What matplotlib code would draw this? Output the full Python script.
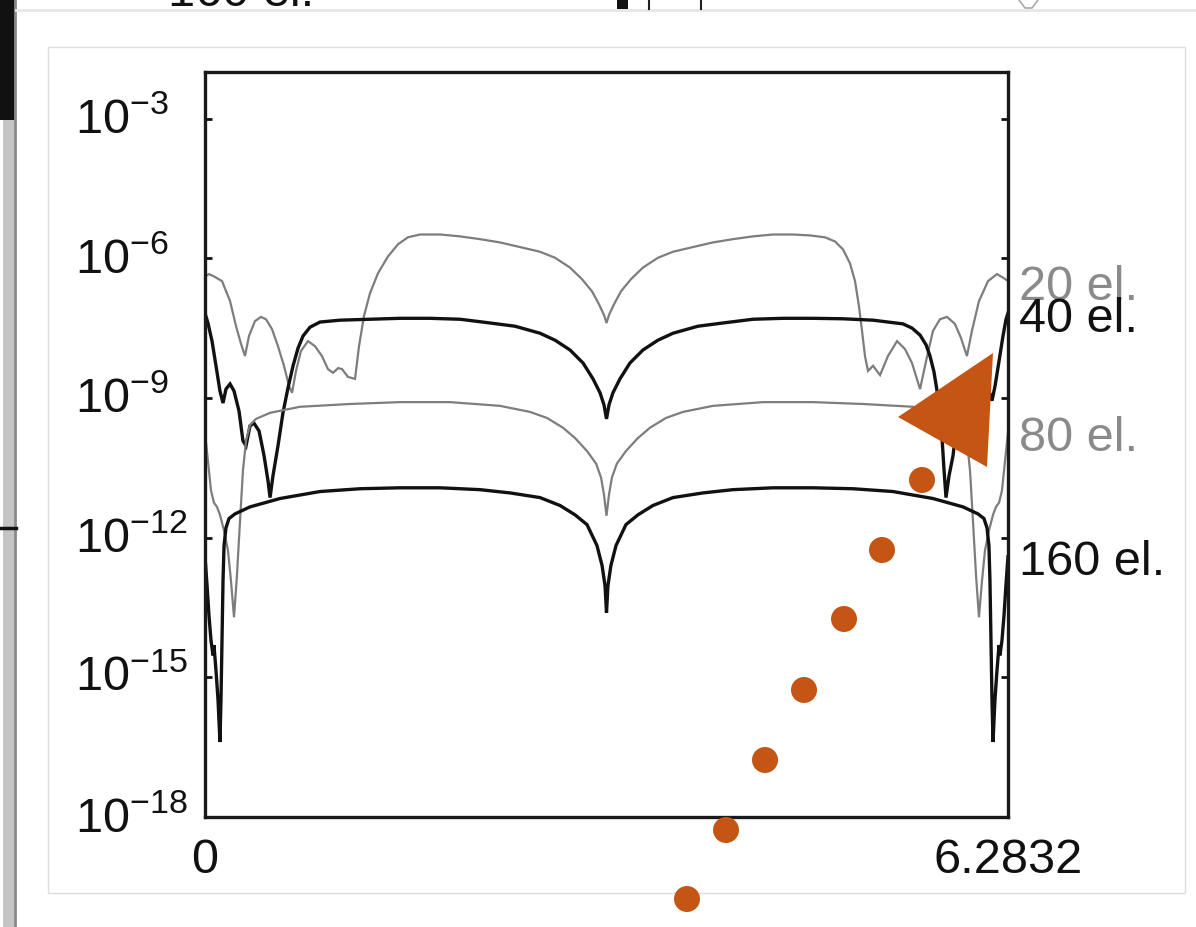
import numpy as np
import matplotlib.pyplot as plt
from matplotlib.patches import Polygon, Rectangle
from matplotlib.transforms import ScaledTranslation

plt.rcParams['font.family'] = ['Liberation Sans', 'DejaVu Sans']
plt.rcParams['mathtext.fontset'] = 'custom'
plt.rcParams['mathtext.rm'] = 'Liberation Sans'
plt.rcParams['mathtext.it'] = 'Liberation Sans:italic'
plt.rcParams['mathtext.bf'] = 'Liberation Sans:bold'

# ---- error curves: x in radians, values are log10(error) ----
x_20 = [0.000, 0.031, 0.070, 0.133, 0.196, 0.243, 0.282, 0.313, 0.344, 0.391,
        0.438, 0.477, 0.524, 0.571, 0.618, 0.657, 0.681, 0.712, 0.751, 0.806,
        0.861, 0.915, 0.962, 1.002, 1.041, 1.072, 1.119, 1.174, 1.205, 1.244,
        1.291, 1.354, 1.432, 1.510, 1.588, 1.682, 1.839, 1.995, 2.152, 2.308,
        2.465, 2.621, 2.739, 2.856, 2.950, 3.028, 3.083, 3.122, 3.1416,
        3.161, 3.200, 3.255, 3.333, 3.427, 3.544, 3.662, 3.818, 3.975, 4.131,
        4.288, 4.444, 4.601, 4.734, 4.851, 4.930, 4.992, 5.047, 5.086, 5.117,
        5.141, 5.164, 5.188, 5.227, 5.282, 5.344, 5.415, 5.477, 5.532, 5.595,
        5.642, 5.696, 5.751, 5.806, 5.868, 5.915, 5.962, 6.001, 6.056, 6.127,
        6.197, 6.252, 6.283]
e_20 = [-6.39, -6.34, -6.39, -6.49, -6.92, -7.46, -7.84, -8.10, -7.67, -7.35,
        -7.26, -7.31, -7.52, -7.89, -8.31, -8.74, -8.89, -8.42, -7.99, -7.78,
        -7.89, -8.10, -8.38, -8.46, -8.36, -8.38, -8.55, -8.59, -7.89, -7.24,
        -6.75, -6.32, -5.96, -5.70, -5.55, -5.49, -5.49, -5.53, -5.59, -5.66,
        -5.76, -5.86, -5.99, -6.20, -6.45, -6.71, -6.99, -7.22, -7.39,
        -7.22, -6.99, -6.71, -6.45, -6.20, -5.99, -5.86, -5.76, -5.66, -5.59,
        -5.53, -5.49, -5.49, -5.51, -5.55, -5.64, -5.81, -6.11, -6.49, -7.03,
        -7.56, -8.10, -8.42, -8.31, -8.51, -8.10, -7.78, -7.95, -8.25, -8.81,
        -8.21, -7.56, -7.31, -7.26, -7.41, -7.71, -8.10, -7.56, -6.92, -6.49,
        -6.34, -6.43, -6.49]

x_40 = [0.000, 0.023, 0.055, 0.086, 0.117, 0.141, 0.164, 0.196, 0.227, 0.266,
        0.297, 0.321, 0.352, 0.383, 0.423, 0.462, 0.493, 0.509, 0.532, 0.571,
        0.610, 0.649, 0.689, 0.728, 0.767, 0.822, 0.900, 1.056, 1.291, 1.526,
        1.761, 1.995, 2.230, 2.426, 2.621, 2.739, 2.856, 2.958, 3.036, 3.091,
        3.122, 3.1416,
        3.161, 3.192, 3.247, 3.325, 3.427, 3.544, 3.662, 3.857, 4.053, 4.288,
        4.522, 4.757, 4.992, 5.227, 5.462, 5.532, 5.595, 5.642, 5.673, 5.704,
        5.728, 5.751, 5.767, 5.782, 5.798, 5.822, 5.853, 5.876, 5.915, 5.947,
        5.978, 6.002, 6.033, 6.072, 6.103, 6.135, 6.158, 6.182, 6.213, 6.244,
        6.268, 6.283]
e_40 = [-7.18, -7.39, -7.78, -8.31, -8.85, -9.11, -8.81, -8.70, -8.85, -9.28,
        -9.92, -10.03, -9.60, -9.54, -9.71, -10.24, -10.78, -11.14, -10.67, -10.03,
        -9.32, -8.79, -8.31, -7.93, -7.67, -7.48, -7.37, -7.33, -7.31, -7.29,
        -7.29, -7.31, -7.39, -7.46, -7.61, -7.76, -7.97, -8.25, -8.59, -8.89,
        -9.15, -9.45,
        -9.15, -8.89, -8.59, -8.25, -7.97, -7.76, -7.61, -7.46, -7.39, -7.31,
        -7.29, -7.29, -7.30, -7.33, -7.41, -7.50, -7.65, -7.86, -8.10, -8.44,
        -8.85, -9.34, -9.86, -10.52, -11.14, -10.67, -10.24, -9.71, -9.54, -9.60,
        -10.03, -9.92, -9.28, -8.85, -8.70, -8.85, -9.06, -8.74, -8.21, -7.67,
        -7.31, -7.18]

x_80 = [0.000, 0.023, 0.047, 0.070, 0.094, 0.117, 0.149, 0.180, 0.203, 0.227,
        0.250, 0.274, 0.297, 0.321, 0.352, 0.399, 0.509, 0.743, 1.135, 1.526,
        1.917, 2.308, 2.543, 2.676, 2.801, 2.895, 2.989, 3.060, 3.099, 3.122,
        3.1416,
        3.161, 3.184, 3.223, 3.294, 3.388, 3.482, 3.607, 3.740, 3.975, 4.366,
        4.757, 5.148, 5.540, 5.774, 5.884, 5.931, 5.962, 5.986, 6.009, 6.033,
        6.056, 6.080, 6.103, 6.134, 6.166, 6.189, 6.213, 6.236, 6.260, 6.283]
e_80 = [-9.75, -10.35, -10.99, -11.25, -11.34, -11.51, -11.85, -12.28, -12.92, -13.71,
        -12.81, -11.64, -10.56, -9.92, -9.58, -9.45, -9.32, -9.19, -9.13, -9.09,
        -9.09, -9.17, -9.30, -9.43, -9.64, -9.86, -10.14, -10.41, -10.71, -11.08,
        -11.53,
        -11.08, -10.71, -10.41, -10.14, -9.86, -9.64, -9.43, -9.30, -9.17, -9.09,
        -9.09, -9.13, -9.19, -9.32, -9.45, -9.58, -9.92, -10.56, -11.64, -12.81,
        -13.71, -12.92, -12.28, -11.85, -11.51, -11.34, -11.25, -10.99, -10.35, -9.75]

x_160 = [0.000, 0.016, 0.031, 0.047, 0.063, 0.070, 0.086, 0.102, 0.117, 0.125,
         0.133, 0.141, 0.149, 0.164, 0.188, 0.235, 0.352, 0.587, 0.900, 1.213,
         1.526, 1.839, 2.152, 2.387, 2.621, 2.778, 2.895, 2.989, 3.067, 3.107,
         3.130, 3.1416,
         3.153, 3.176, 3.216, 3.294, 3.388, 3.505, 3.662, 3.896, 4.131, 4.444,
         4.757, 5.070, 5.383, 5.696, 5.931, 6.048, 6.095, 6.119, 6.134, 6.142,
         6.150, 6.158, 6.166, 6.181, 6.197, 6.213, 6.220, 6.236, 6.252, 6.267,
         6.283]
e_160 = [-12.41, -13.03, -13.67, -14.21, -14.53, -14.31, -14.85, -15.49, -16.39, -15.49,
         -14.21, -12.92, -12.17, -11.79, -11.59, -11.49, -11.34, -11.16, -11.01, -10.95,
         -10.93, -10.93, -10.97, -11.04, -11.14, -11.31, -11.51, -11.72, -12.17, -12.60,
         -13.03, -13.61,
         -13.03, -12.60, -12.17, -11.72, -11.51, -11.31, -11.14, -11.04, -10.97, -10.93,
         -10.93, -10.95, -11.01, -11.16, -11.34, -11.49, -11.59, -11.79, -12.17, -12.92,
         -14.21, -15.49, -16.39, -15.49, -14.85, -14.31, -14.53, -14.21, -13.67, -13.03,
         -12.41]

series_labels = ['20 el.', '40 el.', '80 el.', '160 el.']
ytick_exponents = [-18, -15, -12, -9, -6, -3]
xtick_values = [0.0, 6.2832]
xtick_labels = ['0', '6.2832']

# pointer overlay (figure pixel space)
pointer_dots_x = [687, 726, 765, 804, 844, 882, 922]
pointer_dots_y = [899, 830, 760, 690, 619, 550, 480]
pointer_head_x = [898, 993, 987]
pointer_head_y = [417, 353, 467]

W, H = 1196, 927
fig = plt.figure(figsize=(W / 100, H / 100), dpi=100)
fig.patch.set_facecolor('white')

# ---- window surroundings ----
bg = fig.add_axes([0, 0, 1, 1], zorder=-5)
bg.set_xlim(0, W)
bg.set_ylim(H, 0)
bg.axis('off')
bg.add_patch(Rectangle((3, 0), 13, H, facecolor='#c4c4c4', edgecolor='none'))
bg.plot([15, 15], [0, H], color='#8a8a8a', lw=2)
bg.add_patch(Rectangle((0, 0), 16, 120, facecolor='#111111', edgecolor='none'))
bg.plot([0, 16], [528, 528], color='#111111', lw=2.5)
bg.plot([16, W], [10, 10], color='#e6e6e6', lw=2)
bg.add_patch(Rectangle((617, 0), 11, 9, facecolor='#111111', edgecolor='none'))
bg.plot([649, 649], [0, 9], color='#222222', lw=1.5)
bg.plot([701, 701], [0, 9], color='#222222', lw=1.5)
bg.plot([1019, 1025, 1032, 1038], [0, 8, 8, 0], color='#aaaaaa', lw=1.2)
bg.text(168, 6, '160 el.', fontsize=35, color='#111111', va='baseline', ha='left')
bg.add_patch(Rectangle((48, 47), 1137, 846, facecolor='none',
                       edgecolor='#dddddd', lw=1))

# ---- main plot ----
ax = fig.add_axes([205 / W, 110 / H, 803 / W, 745 / H])
styles = [('#7d7d7d', 1.6), ('#111111', 2.4), ('#7d7d7d', 1.6), ('#111111', 2.4)]
label_colors = ['#8a8a8a', '#111111', '#8a8a8a', '#111111']
curves = [(x_20, e_20), (x_40, e_40), (x_80, e_80), (x_160, e_160)]
for (xs, es), (col, lw), lab, lcol in zip(curves, styles, series_labels, label_colors):
    xs = np.asarray(xs)
    ys = 10.0 ** np.asarray(es)
    ax.plot(xs, ys, color=col, lw=lw, solid_joinstyle='miter', clip_on=True)
    ax.annotate(lab, xy=(2 * np.pi, ys[-1]), xycoords='data',
                xytext=(8, -13.3), textcoords='offset points',
                ha='left', va='baseline', fontsize=35, color=lcol,
                annotation_clip=False)

ax.set_yscale('log')
ax.set_xlim(0, 2 * np.pi)
ax.set_ylim(1e-18, 1e-2)
ax.set_yticks([10.0 ** e for e in ytick_exponents])
ax.set_yticklabels([r'$10^{%d}$' % e for e in ytick_exponents])
ax.yaxis.set_minor_locator(plt.NullLocator())
ax.set_xticks(xtick_values)
ax.set_xticklabels(xtick_labels)
ax.tick_params(axis='y', which='major', direction='in', length=5, width=2,
               left=True, right=True, labelsize=35, pad=93.6, colors='#111111')
ax.tick_params(axis='x', which='major', direction='in', length=0, width=0,
               labelsize=35, pad=15, colors='#111111')
lift = ScaledTranslation(0, 0.035, fig.dpi_scale_trans)
for lab in ax.get_yticklabels():
    lab.set_horizontalalignment('left')
    lab.set_transform(lab.get_transform() + lift)
for sp in ax.spines.values():
    sp.set_linewidth(2.4)
    sp.set_color('#1a1a1a')

# ---- pointer overlay ----
ov = fig.add_axes([0, 0, 1, 1], zorder=10)
ov.set_xlim(0, W)
ov.set_ylim(H, 0)
ov.axis('off')
ov.patch.set_alpha(0)
orange = '#C55514'
ov.scatter(pointer_dots_x, pointer_dots_y, s=(26 * 0.72) ** 2, color=orange,
           edgecolors='none')
ov.add_patch(Polygon(list(zip(pointer_head_x, pointer_head_y)), closed=True,
                     facecolor=orange, edgecolor='none'))

fig.savefig('out.png', dpi=100, facecolor='white')
